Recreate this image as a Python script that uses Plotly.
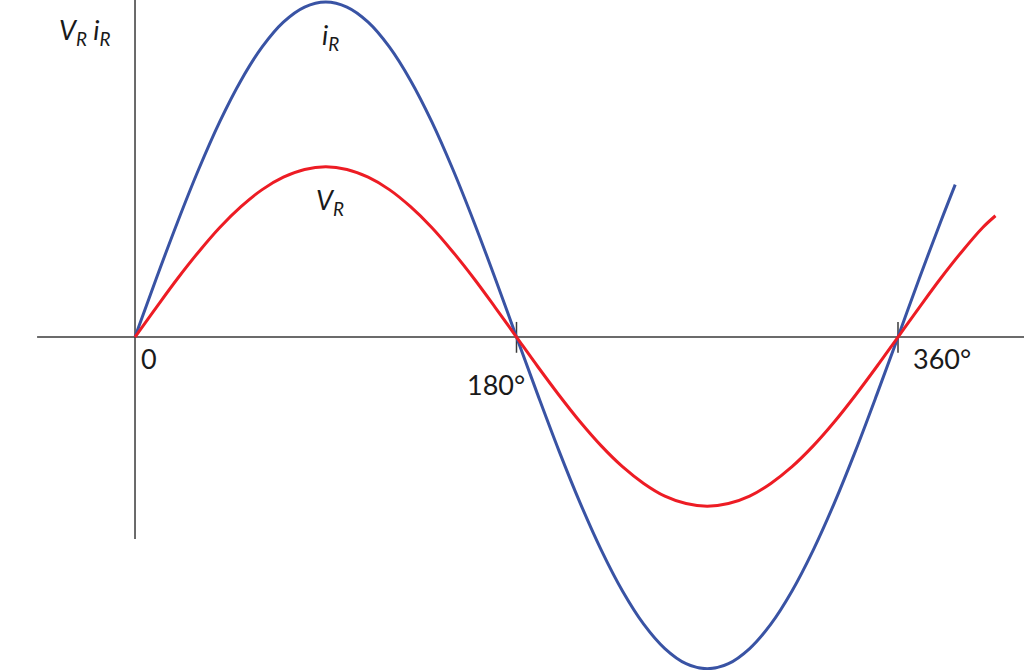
import plotly.graph_objects as go

# angle (degrees) and values
ir_angle = [0, 10, 20, 30, 40, 50, 60, 70, 80, 90, 100, 110, 120, 130, 140, 150, 160, 170, 180,
            190, 200, 210, 220, 230, 240, 250, 260, 270, 280, 290, 300, 310, 320, 330, 340, 350, 360,
            370, 380, 387]
ir_value = [0, 1.74, 3.42, 5.00, 6.43, 7.66, 8.66, 9.40, 9.85, 10.0, 9.85, 9.40, 8.66, 7.66, 6.43, 5.00,
            3.42, 1.74, 0,
            -1.72, -3.39, -4.95, -6.36, -7.58, -8.57, -9.30, -9.75, -9.90, -9.75, -9.30, -8.57, -7.58,
            -6.36, -4.95, -3.39, -1.72, 0,
            1.74, 3.42, 4.55]

vr_angle = [0, 10, 20, 30, 40, 50, 60, 70, 80, 90, 100, 110, 120, 130, 140, 150, 160, 170, 180,
            190, 200, 210, 220, 230, 240, 250, 260, 270, 280, 290, 300, 310, 320, 330, 340, 350, 360,
            370, 380, 390, 400, 406]
vr_value = [0, 0.88, 1.74, 2.54, 3.27, 3.89, 4.40, 4.77, 5.00, 5.08, 5.00, 4.77, 4.40, 3.89, 3.27, 2.54,
            1.74, 0.88, 0,
            -0.88, -1.73, -2.53, -3.25, -3.87, -4.37, -4.75, -4.97, -5.05, -4.97, -4.75, -4.37, -3.87,
            -3.25, -2.53, -1.73, -0.88, 0,
            0.88, 1.74, 2.54, 3.27, 3.62]

tick_angles = [180, 360]
tick_labels = ["180°", "360°"]

BLUE = "#3953a4"
RED = "#ed1c24"
AXIS = "#3a3a3a"
FONT = "Lato"

fig = go.Figure()

fig.add_trace(go.Scatter(x=ir_angle, y=ir_value, mode="lines", line_shape="spline",
                         line=dict(color=BLUE, width=3), showlegend=False, hoverinfo="skip"))
fig.add_trace(go.Scatter(x=vr_angle, y=vr_value, mode="lines", line_shape="spline",
                         line=dict(color=RED, width=3), showlegend=False, hoverinfo="skip"))

# axes drawn as lines
axis_line = dict(color=AXIS, width=1.5)
fig.add_shape(type="line", xref="x", yref="y", x0=-46.2, x1=419.5, y0=0, y1=0, line=axis_line, layer="below")
fig.add_shape(type="line", xref="x", yref="y", x0=0, x1=0, y0=10.1, y1=-6.03, line=axis_line, layer="below")
for a in tick_angles:
    fig.add_shape(type="line", xref="x", yref="y", x0=a, x1=a, y0=0.45, y1=-0.47, line=axis_line, layer="below")

txt = dict(family=FONT, size=27, color="#1a1a1a")
fig.add_annotation(x=0, y=0, xshift=14, yshift=-21, text="0", showarrow=False, font=txt)
fig.add_annotation(x=tick_angles[0], y=0, xshift=-21, yshift=-47, text=tick_labels[0], showarrow=False, font=txt)
fig.add_annotation(x=tick_angles[1], y=0, xshift=44, yshift=-21, text=tick_labels[1], showarrow=False, font=txt)

fig.add_annotation(x=0, y=10.06, xshift=-50, yshift=-31, text="<i>V<sub>R</sub> i<sub>R</sub></i>",
                   showarrow=False, font=txt)
fig.add_annotation(x=90, y=10.06, xshift=5, yshift=-36, text="<i>i<sub>R</sub></i>", showarrow=False, font=txt)
fig.add_annotation(x=90, y=5.08, xshift=4, yshift=-35, text="<i>V<sub>R</sub></i>", showarrow=False, font=txt)

fig.update_layout(
    width=1024,
    height=670,
    margin=dict(l=0, r=0, t=0, b=0),
    plot_bgcolor="white",
    paper_bgcolor="white",
    xaxis=dict(range=[-63.7, 419.45], visible=False, fixedrange=True),
    yaxis=dict(range=[-9.94, 10.06], visible=False, fixedrange=True),
)

fig.write_html("out.html", config=dict(displayModeBar=False),
               post_script="document.body.style.margin='0';")
